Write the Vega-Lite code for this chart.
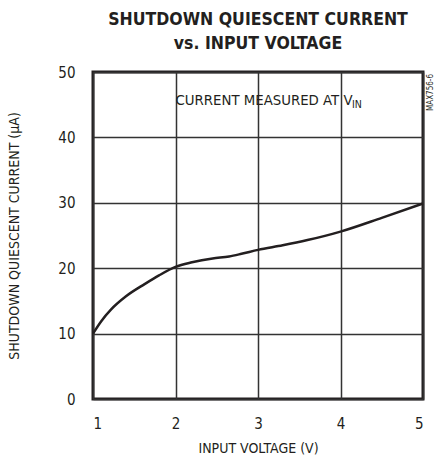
{
  "$schema": "https://vega.github.io/schema/vega-lite/v6.json",
  "autosize": {"type": "none"},
  "padding": {"left": 93, "top": 72, "right": 24, "bottom": 60},
  "width": 330,
  "height": 327,
  "background": "white",
  "config": {
    "font": "Liberation Sans Narrow, DejaVu Sans Condensed, sans-serif",
    "view": {"stroke": "#231f20", "strokeWidth": 3},
    "axis": {
      "domain": false,
      "ticks": false,
      "grid": true,
      "gridColor": "#333333",
      "gridWidth": 1.5,
      "gridOpacity": 1,
      "labelFont": "Liberation Sans Narrow, DejaVu Sans Condensed, sans-serif",
      "labelFontSize": 15,
      "labelColor": "#231f20",
      "titleFont": "Liberation Sans Narrow, DejaVu Sans Condensed, sans-serif",
      "titleFontSize": 14,
      "titleFontWeight": "normal",
      "titleColor": "#231f20"
    }
  },
  "title": {
    "text": ["SHUTDOWN QUIESCENT CURRENT", "vs. INPUT VOLTAGE"],
    "font": "Liberation Sans Narrow, DejaVu Sans Condensed, sans-serif",
    "fontSize": 17.5,
    "fontWeight": "bold",
    "lineHeight": 24,
    "color": "#231f20",
    "anchor": "middle",
    "offset": 13
  },
  "datasets": {
    "curve": [
      {"v": 1.0, "i": 10.0},
      {"v": 1.1, "i": 11.9},
      {"v": 1.22, "i": 13.7},
      {"v": 1.4, "i": 15.7},
      {"v": 1.63, "i": 17.6},
      {"v": 1.8, "i": 18.9},
      {"v": 2.0, "i": 20.2},
      {"v": 2.2, "i": 20.9},
      {"v": 2.45, "i": 21.5},
      {"v": 2.65, "i": 21.8},
      {"v": 2.8, "i": 22.2},
      {"v": 3.0, "i": 22.8},
      {"v": 3.3, "i": 23.5},
      {"v": 3.6, "i": 24.3},
      {"v": 4.0, "i": 25.6},
      {"v": 4.5, "i": 27.7},
      {"v": 5.0, "i": 29.9}
    ],
    "note": [{"v": 2.0, "i": 45.6, "t": "CURRENT MEASURED AT V"}],
    "sub": [{"v": 4.14, "i": 44.9, "t": "IN"}],
    "code": [{"v": 5, "i": 50, "t": "MAX756-6"}]
  },
  "layer": [
    {
      "data": {"name": "curve"},
      "mark": {"type": "line", "color": "#231f20", "strokeWidth": 2.5, "interpolate": "monotone"},
      "encoding": {
        "x": {
          "field": "v", "type": "quantitative",
          "scale": {"domain": [1, 5], "nice": false, "zero": false},
          "axis": {"values": [1, 2, 3, 4, 5], "title": "INPUT VOLTAGE (V)", "labelPadding": 17, "titlePadding": 10, "format": "d"}
        },
        "y": {
          "field": "i", "type": "quantitative",
          "scale": {"domain": [0, 50], "nice": false},
          "axis": {"values": [0, 10, 20, 30, 40, 50], "title": "SHUTDOWN QUIESCENT CURRENT (µA)", "labelPadding": 18, "titlePadding": 36, "format": "d"}
        }
      }
    },
    {
      "data": {"name": "note"},
      "mark": {"type": "text", "align": "left", "baseline": "middle", "fontSize": 14.8, "color": "#231f20"},
      "encoding": {
        "x": {"field": "v", "type": "quantitative"},
        "y": {"field": "i", "type": "quantitative"},
        "text": {"field": "t"}
      }
    },
    {
      "data": {"name": "sub"},
      "mark": {"type": "text", "align": "left", "baseline": "middle", "fontSize": 10.5, "color": "#231f20"},
      "encoding": {
        "x": {"field": "v", "type": "quantitative"},
        "y": {"field": "i", "type": "quantitative"},
        "text": {"field": "t"}
      }
    },
    {
      "data": {"name": "code"},
      "mark": {"type": "text", "align": "right", "baseline": "top", "angle": 270, "fontSize": 8, "dy": 4, "dx": -2, "color": "#231f20"},
      "encoding": {
        "x": {"field": "v", "type": "quantitative"},
        "y": {"field": "i", "type": "quantitative"},
        "text": {"field": "t"}
      }
    }
  ]
}
